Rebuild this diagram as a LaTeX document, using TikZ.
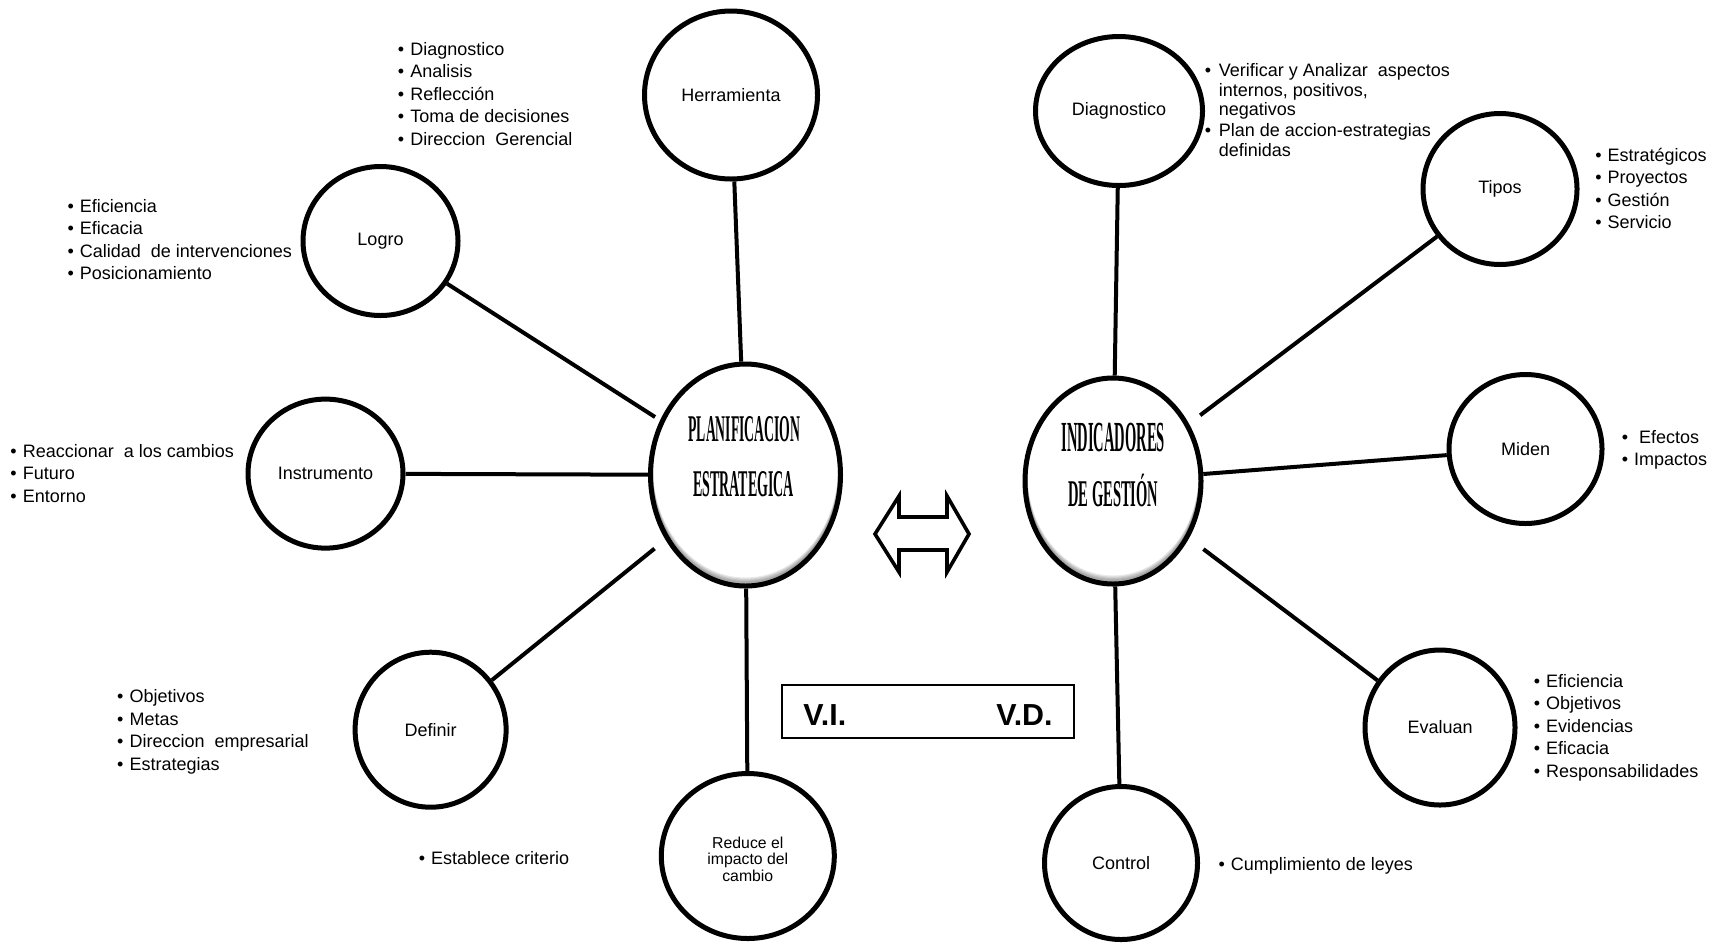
\documentclass[tikz,border=0pt]{standalone}
\usepackage{graphicx}
\usepackage{fontspec}
\setmainfont{Liberation Sans}
\newfontfamily\titlefont{Liberation Serif}
\usetikzlibrary{shapes.geometric}

% bullet item: bullet in a fixed-width box, then the text
\newcommand\bi[2][6.2pt]{\makebox[#1][l]{\textbullet}#2}
% a column of items whose baseline is the first row
\newcommand\blist[1]{\begin{tabular}[t]{@{}l@{}}#1\end{tabular}}
% condensed heavy serif title line, forced to a given width and cap height
\newcommand\ctitle[3]{\resizebox{#1}{#2}{\titlefont\bfseries #3}}

\begin{document}
\begin{tikzpicture}[x=0.5pt,y=-0.5pt,
  bubble/.style={ellipse, draw, line width=2.5pt, inner sep=0pt, align=center,
                 font=\fontsize{9}{10.8}\selectfont},
  hub/.style={ellipse, draw, line width=2.5pt, inner sep=0pt},
  link/.style={line width=2pt},
  lst/.style={anchor=base west, inner sep=0pt, font=\fontsize{9}{11.3}\selectfont},
  title/.style={anchor=base, inner sep=0pt},
  vtxt/.style={inner sep=0pt, font=\fontsize{15.2}{18}\selectfont\bfseries}]

\useasboundingbox (0,0) rectangle (1727,944);

% soft inner shadow along the lower rim of the two hubs
\begin{scope}
  \clip (745.5,475) ellipse [x radius=47.5pt, y radius=55.5pt];
  \foreach \s in {0.6,1.2,1.8,2.4,3}
    \draw[black, opacity=0.09, line width=2.5pt]
      ([yshift=\s pt]745.5,475) ellipse [x radius=47.5pt, y radius=55.5pt];
\end{scope}
\begin{scope}
  \clip (1113,481) ellipse [x radius=44pt, y radius=51.5pt];
  \foreach \s in {0.6,1.2,1.8,2.4,3}
    \draw[black, opacity=0.09, line width=2.5pt]
      ([yshift=\s pt]1113,481) ellipse [x radius=44pt, y radius=51.5pt];
\end{scope}

% hubs
\node[hub, minimum width=95pt, minimum height=111pt] (plan) at (745.5,475) {};
\node[hub, minimum width=88pt, minimum height=103pt] (ind) at (1113,481) {};

\node[title] (plan1) at (744.5,441.7) {\ctitle{56pt}{12.5pt}{PLANIFICACION}};
\node[title] (plan2) at (743.7,496.7) {\ctitle{50.3pt}{12.5pt}{ESTRATEGICA}};
\node[title] (ind1) at (1113.3,451.7) {\ctitle{51.7pt}{14.2pt}{INDICADORES}};
\node[title] (ind2) at (1113.3,506.7) {\ctitle{45pt}{12.5pt}{DE GESTI\smash{Ó}N}};

% satellites of the left hub
\node[bubble, minimum width=86.5pt, minimum height=84pt] (herr) at (731,95) {Herramienta};
\node[bubble, minimum width=77.5pt, minimum height=74.5pt] (logro) at (380.5,241) {Logro};
\node[bubble, minimum width=77.5pt, minimum height=74.5pt] (instr) at (325.5,473.6) {Instrumento};
\node[bubble, minimum width=75.5pt, minimum height=77.5pt] (defin) at (430.6,729.7) {Definir};
\node[bubble, minimum width=86.5pt, minimum height=82.5pt,
      label={[align=center, inner sep=0pt, yshift=-1.6pt, font=\fontsize{7.9}{8.3}\selectfont]
             center:Reduce el\\impacto del\\cambio}] (reduce) at (747.8,856) {};

% satellites of the right hub
\node[bubble, minimum width=83.5pt, minimum height=74.5pt] (diag) at (1119,111) {Diagnostico};
\node[bubble, minimum width=77pt, minimum height=75.5pt] (tipos) at (1500,189) {Tipos};
\node[bubble, minimum width=76.5pt, minimum height=74.5pt] (miden) at (1525.5,449) {Miden};
\node[bubble, minimum width=75pt, minimum height=77.5pt] (eval) at (1440,727.5) {Evaluan};
\node[bubble, minimum width=76.5pt, minimum height=76.5pt] (control) at (1121,863) {Control};

% spokes
\draw[link] (herr) -- (plan);
\draw[link, shorten >=3pt] (logro) -- (plan);
\draw[link] (instr) -- (plan);
\draw[link, shorten >=7pt] (defin) -- (plan);
\draw[link] (reduce) -- (plan);

\draw[link] (diag) -- (ind);
\draw[link, shorten >=7pt] (tipos) -- (ind);
\draw[link] (miden) -- (ind);
\draw[link, shorten >=9pt] (eval) -- (ind);
\draw[link] (control) -- (ind);

% bullet lists
\node[lst] (lherr) at (397.5,55) {\blist{\bi{Diagnostico}\\ \bi{Analisis}\\ \bi{Reflección}\\
  \bi{Toma de decisiones}\\ \bi{Direccion\ \ Gerencial}}};
\node[lst] (llogro) at (67.1,212) {\blist{\bi{Eficiencia}\\ \bi{Eficacia}\\
  \bi{Calidad\ \ de intervenciones}\\ \bi{Posicionamiento}}};
\node[lst] (linstr) at (10,457) {\blist{\bi{Reaccionar\ \ a los cambios}\\ \bi{Futuro}\\ \bi{Entorno}}};
\node[lst] (ldefin) at (116.8,702.7) {\blist{\bi{Objetivos}\\ \bi{Metas}\\
  \bi{Direccion\ \ empresarial}\\ \bi{Estrategias}}};
\node[lst] (lreduce) at (418.4,864.5) {\bi{Establece criterio}};

\node[lst, font=\fontsize{9}{9.75}\selectfont] (ldiag) at (1204.4,76.7) {\blist{%
  \bi[7pt]{Verificar y Analizar\ \ aspectos}\\ \hspace{7pt}internos, positivos,\\
  \hspace{7pt}negativos\\[0.8pt] \bi[7pt]{Plan de accion-estrategias}\\ \hspace{7pt}definidas}};
\node[lst] (ltipos) at (1594.9,161) {\blist{\bi{Estratégicos}\\ \bi{Proyectos}\\
  \bi{Gestión}\\ \bi{Servicio}}};
\node[lst] (lmiden) at (1621.4,443) {\blist{\bi{\hspace{2.5pt}Efectos}\\ \bi{Impactos}}};
\node[lst] (leval) at (1533.4,687) {\blist{\bi{Eficiencia}\\ \bi{Objetivos}\\ \bi{Evidencias}\\
  \bi{Eficacia}\\ \bi{Responsabilidades}}};
\node[lst] (lcontrol) at (1218.1,870) {\bi{Cumplimiento de leyes}};

% double-headed hollow arrow between the hubs
\draw[line width=1.8pt, line join=miter, fill=white]
  (875,534) -- (899,496) -- (899,517) -- (947,517) -- (947,496) -- (969,534)
  -- (947,572) -- (947,550) -- (899,550) -- (899,572) -- cycle;

% variable legend
\node[draw, line width=1pt, minimum width=146pt, minimum height=26.5pt, inner sep=0pt]
  (vbox) at (928,711.5) {};
\node[vtxt, anchor=base west] (vi) at (803,725) {V.I.};
\node[vtxt, anchor=base east] (vd) at (1053,725) {V.D.};

\end{tikzpicture}
\end{document}
